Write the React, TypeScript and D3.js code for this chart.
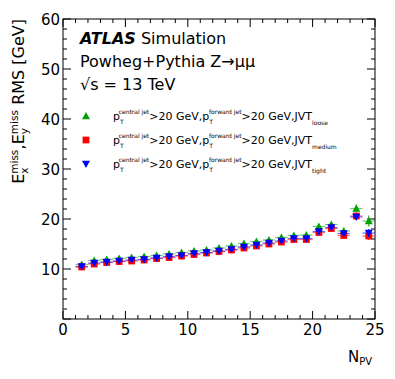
import { useEffect, useRef } from 'react'
import * as d3 from 'd3'

const WIDTH = 395
const HEIGHT = 379
const MARGIN = { left: 63, right: 20, top: 19, bottom: 61 }
const FONT = '"DejaVu Sans", Arial, Helvetica, sans-serif'

// bin centres of N_PV
const NPV = [1.5, 2.5, 3.5, 4.5, 5.5, 6.5, 7.5, 8.5, 9.5, 10.5, 11.5, 12.5,
  13.5, 14.5, 15.5, 16.5, 17.5, 18.5, 19.5, 20.5, 21.5, 22.5, 23.5, 24.5]

const LOOSE = [10.9, 11.7, 11.9, 12.1, 12.3, 12.5, 12.7, 13.0, 13.3, 13.6, 13.8, 14.2,
  14.6, 15.1, 15.5, 15.8, 16.3, 16.7, 16.8, 18.5, 18.9, 17.6, 22.1, 19.6]
const MEDIUM = [10.4, 11.0, 11.3, 11.5, 11.6, 11.8, 12.1, 12.3, 12.6, 12.9, 13.2, 13.5,
  13.8, 14.2, 14.6, 15.0, 15.4, 15.9, 15.9, 17.3, 18.1, 16.7, 20.6, 16.6]
const TIGHT = [10.5, 11.2, 11.4, 11.6, 11.8, 11.9, 12.2, 12.5, 12.7, 13.1, 13.3, 13.6,
  13.9, 14.4, 14.8, 15.2, 15.6, 16.1, 16.1, 17.5, 18.3, 17.1, 20.4, 17.2]
const LOOSE_ERR = [0.2, 0.15, 0.15, 0.15, 0.15, 0.15, 0.15, 0.15, 0.15, 0.15, 0.15, 0.2,
  0.2, 0.2, 0.2, 0.2, 0.25, 0.25, 0.3, 0.35, 0.4, 0.45, 0.8, 1.1]
const OTHER_ERR = [0.2, 0.15, 0.15, 0.15, 0.15, 0.15, 0.15, 0.15, 0.15, 0.15, 0.15, 0.2,
  0.2, 0.2, 0.2, 0.2, 0.25, 0.25, 0.3, 0.35, 0.4, 0.45, 0.6, 0.8]

const X_TICKS = [0, 5, 10, 15, 20, 25]
const Y_TICKS = [10, 20, 30, 40, 50, 60]

const SERIES = [
  { name: 'loose', values: LOOSE, errs: LOOSE_ERR, color: '#00a000', shape: 'up' },
  { name: 'medium', values: MEDIUM, errs: OTHER_ERR, color: '#ff0000', shape: 'square' },
  { name: 'tight', values: TIGHT, errs: OTHER_ERR, color: '#0000ff', shape: 'down' },
]

function markerPath(shape: string, size: number) {
  const h = size / 2
  if (shape === 'up') return `M0,${-h}L${h},${h * 0.8}L${-h},${h * 0.8}Z`
  if (shape === 'down') return `M0,${h}L${h},${-h * 0.8}L${-h},${-h * 0.8}Z`
  return `M${-h * 0.85},${-h * 0.85}h${h * 1.7}v${h * 1.7}h${-h * 1.7}Z`
}

export default function App() {
  const svgRef = useRef<SVGSVGElement>(null)

  useEffect(() => {
    if (!svgRef.current) return
    const svg = d3.select(svgRef.current)
    svg.selectAll('*').remove()

    const x = d3.scaleLinear().domain([0, 25]).range([MARGIN.left, WIDTH - MARGIN.right])
    const y = d3.scaleLinear().domain([0, 60]).range([HEIGHT - MARGIN.bottom + 1, MARGIN.top])
    const x0 = x(0), x1 = x(25), y0 = y(0), y1 = y(60)

    const g = svg.append('g')

    // frame
    g.append('rect')
      .attr('x', x0).attr('y', y1)
      .attr('width', x1 - x0).attr('height', y0 - y1)
      .attr('fill', 'none').attr('stroke', '#000').attr('stroke-width', 1)

    // ticks (ROOT style, inside, mirrored)
    const ticks = g.append('g').attr('stroke', '#000').attr('stroke-width', 1)
    d3.range(0, 25.01, 1).forEach(v => {
      const len = v % 5 === 0 ? 8 : 4
      ticks.append('line').attr('x1', x(v)).attr('x2', x(v)).attr('y1', y0).attr('y2', y0 - len)
      ticks.append('line').attr('x1', x(v)).attr('x2', x(v)).attr('y1', y1).attr('y2', y1 + len)
    })
    d3.range(0, 60.01, 2).forEach(v => {
      const len = v % 10 === 0 ? 8 : 4
      ticks.append('line').attr('y1', y(v)).attr('y2', y(v)).attr('x1', x0).attr('x2', x0 + len)
      ticks.append('line').attr('y1', y(v)).attr('y2', y(v)).attr('x1', x1).attr('x2', x1 - len)
    })

    g.selectAll('.xt').data(X_TICKS).enter().append('text')
      .attr('x', d => x(d)).attr('y', y0 + 16)
      .attr('text-anchor', 'middle')
      .attr('font-family', FONT).attr('font-size', 15)
      .text(d => d)
    g.selectAll('.yt').data(Y_TICKS).enter().append('text')
      .attr('x', x0 - 3).attr('y', d => y(d) + 5.5)
      .attr('text-anchor', 'end')
      .attr('font-family', FONT).attr('font-size', 15)
      .text(d => d)

    // axis titles
    const xl = g.append('text').attr('x', 348).attr('y', 362)
      .attr('font-family', FONT).attr('font-size', 15)
    xl.append('tspan').text('N')
    xl.append('tspan').attr('font-size', 10).attr('dy', 3).text('PV')

    const yl = g.append('text')
      .attr('transform', `translate(24,${y1}) rotate(-90)`)
      .attr('text-anchor', 'end')
      .attr('font-family', FONT).attr('font-size', 16)
    yl.append('tspan').text('E')
    yl.append('tspan').attr('font-size', 10.5).attr('dy', -6).text('miss')
    yl.append('tspan').attr('font-size', 10.5).attr('dx', -24).attr('dy', 10).text('x')
    yl.append('tspan').attr('dx', 18).attr('dy', -4).text(',E')
    yl.append('tspan').attr('font-size', 10.5).attr('dy', -6).text('miss')
    yl.append('tspan').attr('font-size', 10.5).attr('dx', -24).attr('dy', 10).text('y')
    yl.append('tspan').attr('dx', 18).attr('dy', -4).text(' RMS [GeV]')

    // labels
    const t1 = g.append('text').attr('x', 80).attr('y', 44)
      .attr('font-family', FONT).attr('font-size', 16)
    t1.append('tspan').attr('font-weight', 'bold').attr('font-style', 'italic').text('ATLAS')
    t1.append('tspan').text(' Simulation')
    g.append('text').attr('x', 80).attr('y', 67)
      .attr('font-family', FONT).attr('font-size', 16)
      .text('Powheg+Pythia Z\u2192\u03bc\u03bc')
    g.append('text').attr('x', 80).attr('y', 90)
      .attr('font-family', FONT).attr('font-size', 16)
      .text('\u221as = 13 TeV')

    // legend
    SERIES.forEach((s, i) => {
      const ly = 116 + i * 24
      g.append('path')
        .attr('d', markerPath(s.shape, 8))
        .attr('transform', `translate(86,${ly})`)
        .attr('fill', s.color)
      const t = g.append('text').attr('x', 113).attr('y', ly + 4)
        .attr('font-family', FONT).attr('font-size', 11)
      const part = () => {
        t.append('tspan').text('p')
        t.append('tspan').attr('font-size', 6).attr('dy', 4).text('T')
      }
      part()
      t.append('tspan').attr('font-size', 6).attr('dx', -4).attr('dy', -10).text('central jet')
      t.append('tspan').attr('dy', 6).text('>20 GeV,')
      part()
      t.append('tspan').attr('font-size', 6).attr('dx', -4).attr('dy', -10).text('forward jet')
      t.append('tspan').attr('dy', 6).text('>20 GeV,JVT')
      t.append('tspan').attr('font-size', 6).attr('dy', 5).text(s.name)
    })

    // data
    SERIES.forEach(s => {
      const sg = g.append('g')
      NPV.forEach((n, i) => {
        const v = s.values[i]
        sg.append('line')
          .attr('x1', x(n - 0.5)).attr('x2', x(n + 0.5))
          .attr('y1', y(v)).attr('y2', y(v))
          .attr('stroke', s.color).attr('stroke-opacity', 0.55).attr('stroke-width', 1.2)
        sg.append('line')
          .attr('x1', x(n)).attr('x2', x(n))
          .attr('y1', y(v - s.errs[i])).attr('y2', y(v + s.errs[i]))
          .attr('stroke', s.color).attr('stroke-opacity', 0.8).attr('stroke-width', 1.2)
        sg.append('path')
          .attr('d', markerPath(s.shape, 8))
          .attr('transform', `translate(${x(n)},${y(v)})`)
          .attr('fill', s.color)
      })
    })
  }, [])

  return (
    <svg ref={svgRef} width={WIDTH} height={HEIGHT}
      style={{ position: 'absolute', left: 0, top: 0, background: '#fff' }} />
  )
}
